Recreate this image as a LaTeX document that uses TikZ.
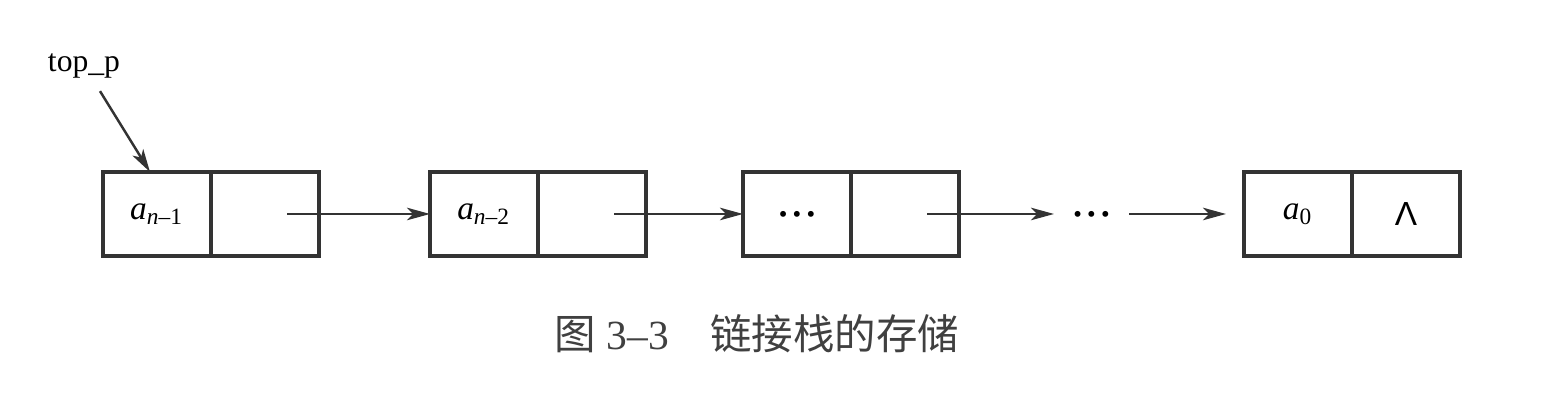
\documentclass[tikz,border=0pt]{standalone}
\usepackage{fontspec}
\setmainfont{Liberation Serif}
\newfontfamily\cjk{Noto Sans CJK SC}
\newfontfamily\lsans{Liberation Sans}
\usetikzlibrary{positioning,arrows.meta}
\newcommand{\bigdots}{\raisebox{-2.4pt}[0pt][0pt]{\fontsize{7}{8}\selectfont\textbullet\kern1.5pt\textbullet\kern1.5pt\textbullet}}

\begin{document}
\begin{tikzpicture}[node distance=1cm, auto,
    >={Stealth[length=2.3mm,width=1.25mm,inset=0.6mm]},
    cell/.style={draw=black!80, rectangle, line width=0.9pt, outer sep=0pt, minimum width=1.08cm, minimum height=0.84cm, inner sep=0pt, font=\fontsize{9.5}{11}\selectfont},
    link/.style={->, draw=black!80, line width=0.7pt}]
    % Page and background
    \useasboundingbox (0,0) rectangle (15.41,4.11);
    \fill[white] (0,0) rectangle (15.41,4.11);

    % Define the boxes
    \node[cell] (data1) at (1.57,1.97) {\textit{a}\textsubscript{\textit{n}–1}};
    \node[cell, right=0pt of data1] (next1) {};
    \node[cell, right=1.11cm of next1] (data2) {\textit{a}\textsubscript{\textit{n}–2}};
    \node[cell, right=0pt of data2] (next2) {};
    \node[cell, right=0.97cm of next2] (data3) {\bigdots};
    \node[cell, right=0pt of data3] (next3) {};
    \node[minimum width=0.75cm, inner sep=0pt, outer sep=0pt, right=0.95cm of next3] (dots) {\bigdots};
    \node[cell, right=1.15cm of dots] (data4) {\textit{a}\textsubscript{0}};
    \node[cell, right=0pt of data4] (next4) {\lsans Λ};

    % Head pointer and caption
    \node[anchor=base, font=\fontsize{9}{11}\selectfont] (topp) at (0.84,3.39) {top\_p};
    \node[anchor=base, font=\fontsize{11.8}{14}\selectfont, text=black!75] (caption) at (7.57,0.61) {{\cjk 图} 3–3\quad{\cjk 链接栈的存储}};

    % Draw arrows between the boxes
    \draw[link] ([xshift=1.6mm]topp.south) -- ([xshift=-0.7mm]data1.north);
    \draw[link, shorten <=2.2mm] (next1.center) -- (data2);
    \draw[link, shorten <=2.2mm] (next2.center) -- (data3);
    \draw[link, shorten <=2.2mm] (next3.center) -- (dots);
    \draw[link, shorten >=1.8mm] (dots) -- (data4);
\end{tikzpicture}
\end{document}
